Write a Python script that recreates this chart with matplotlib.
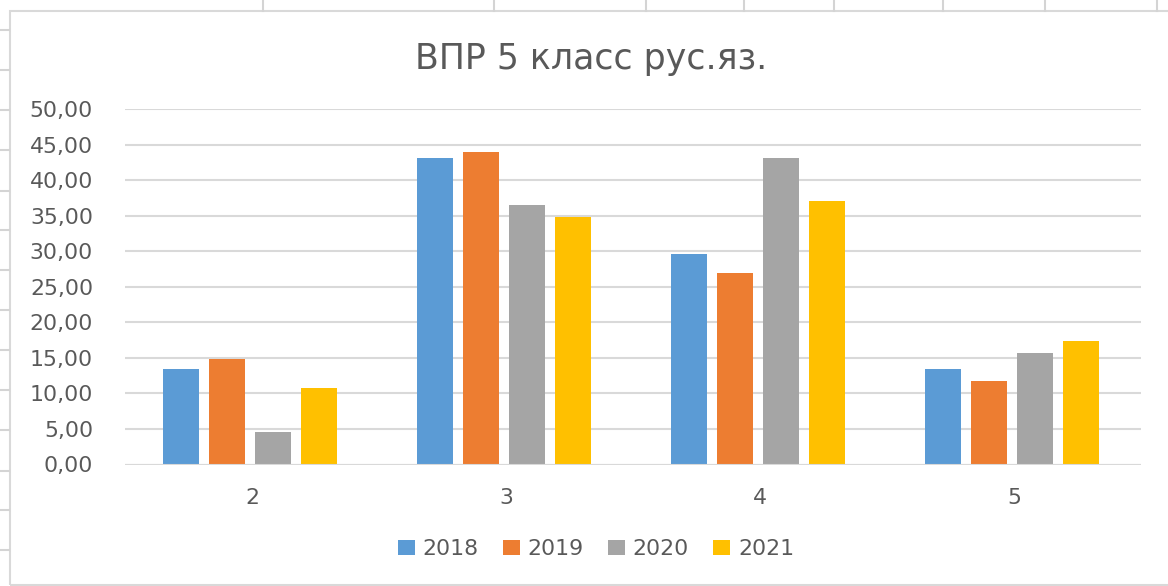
import matplotlib
matplotlib.use("Agg")
import matplotlib.pyplot as plt
import numpy as np
from matplotlib.ticker import FuncFormatter, MultipleLocator
from matplotlib.patches import Rectangle, Patch
from matplotlib.lines import Line2D

# ---- data ----
title = "ВПР 5 класс рус.яз."
categories = ["2", "3", "4", "5"]
years = ["2018", "2019", "2020", "2021"]
v2018 = [13.4, 43.1, 29.6, 13.4]
v2019 = [14.9, 44.0, 27.0, 11.7]
v2020 = [4.6, 36.5, 43.1, 15.7]
v2021 = [10.7, 34.8, 37.0, 17.4]
series = [v2018, v2019, v2020, v2021]
colors = ["#5B9BD5", "#ED7D31", "#A5A5A5", "#FFC000"]

W, H = 1168, 586
fig = plt.figure(figsize=(W / 100, H / 100), dpi=100)
plt.rcParams['font.family'] = ['DejaVu Sans']
text_color = "#595959"
grid_color = "#d9d9d9"

# spreadsheet-like background lines outside the chart frame
sheet_color = "#d4d4d4"
top_cols = [263, 494, 646, 744, 834, 943, 1045, 1157]
left_rows = [30, 70, 110, 150, 191, 230, 270, 310, 350, 390, 430, 471, 510, 550]
for xc in top_cols:
    fig.add_artist(Line2D([xc / W, xc / W], [1, 1 - 11 / H], transform=fig.transFigure,
                          color=sheet_color, lw=1.5))
for yr in left_rows:
    fig.add_artist(Line2D([0, 9 / W], [1 - yr / H, 1 - yr / H], transform=fig.transFigure,
                          color=sheet_color, lw=1.5))
# chart frame
fig.add_artist(Rectangle((9.5 / W, 1 - 585 / H), (W + 5) / W, (585 - 11) / H,
                         transform=fig.transFigure, fill=False, edgecolor=grid_color, lw=1.5))

# axes
left, right = 125 / W, 1141 / W
bottom, top = 1 - 464.5 / H, 1 - 109 / H
ax = fig.add_axes([left, bottom, right - left, top - bottom])

x = np.arange(len(categories))
bw = 0.142
offsets = [-0.2717, -0.0906, 0.0906, 0.2717]
for vals, col, off, yr in zip(series, colors, offsets, years):
    ax.bar(x + off - 0.009, vals, width=bw, color=col, label=yr, zorder=3)

ax.set_xlim(-0.5, len(categories) - 0.5)
ax.set_ylim(0, 50)
ax.yaxis.set_major_locator(MultipleLocator(5))
ax.yaxis.set_major_formatter(FuncFormatter(lambda v, p: f"{v:.2f}".replace(".", ",")))
ax.set_xticks(x)
ax.set_xticklabels(categories)
ax.grid(axis="y", color=grid_color, lw=1.5, zorder=0)
for s in ax.spines.values():
    s.set_visible(False)
ax.axhline(0, color=grid_color, lw=1.5, zorder=4)
ax.tick_params(axis="both", length=0, labelsize=15.8, labelcolor=text_color)
ax.tick_params(axis="y", pad=23)
ax.tick_params(axis="x", pad=17)

fig.text(591 / W, 1 - 69 / H, title, ha="center", va="baseline", fontsize=25,
         color=text_color)

handles = [Patch(facecolor=c, edgecolor="none", label=y) for c, y in zip(colors, years)]
fig.legend(handles=handles, loc="center", bbox_to_anchor=(596 / W, 1 - 549 / H),
           ncol=4, frameon=False, fontsize=15.8, labelcolor=text_color,
           handlelength=0.77, handleheight=0.68, handletextpad=0.36,
           columnspacing=1.1, borderpad=0, borderaxespad=0)

fig.savefig("out.png", dpi=100, facecolor="white")
